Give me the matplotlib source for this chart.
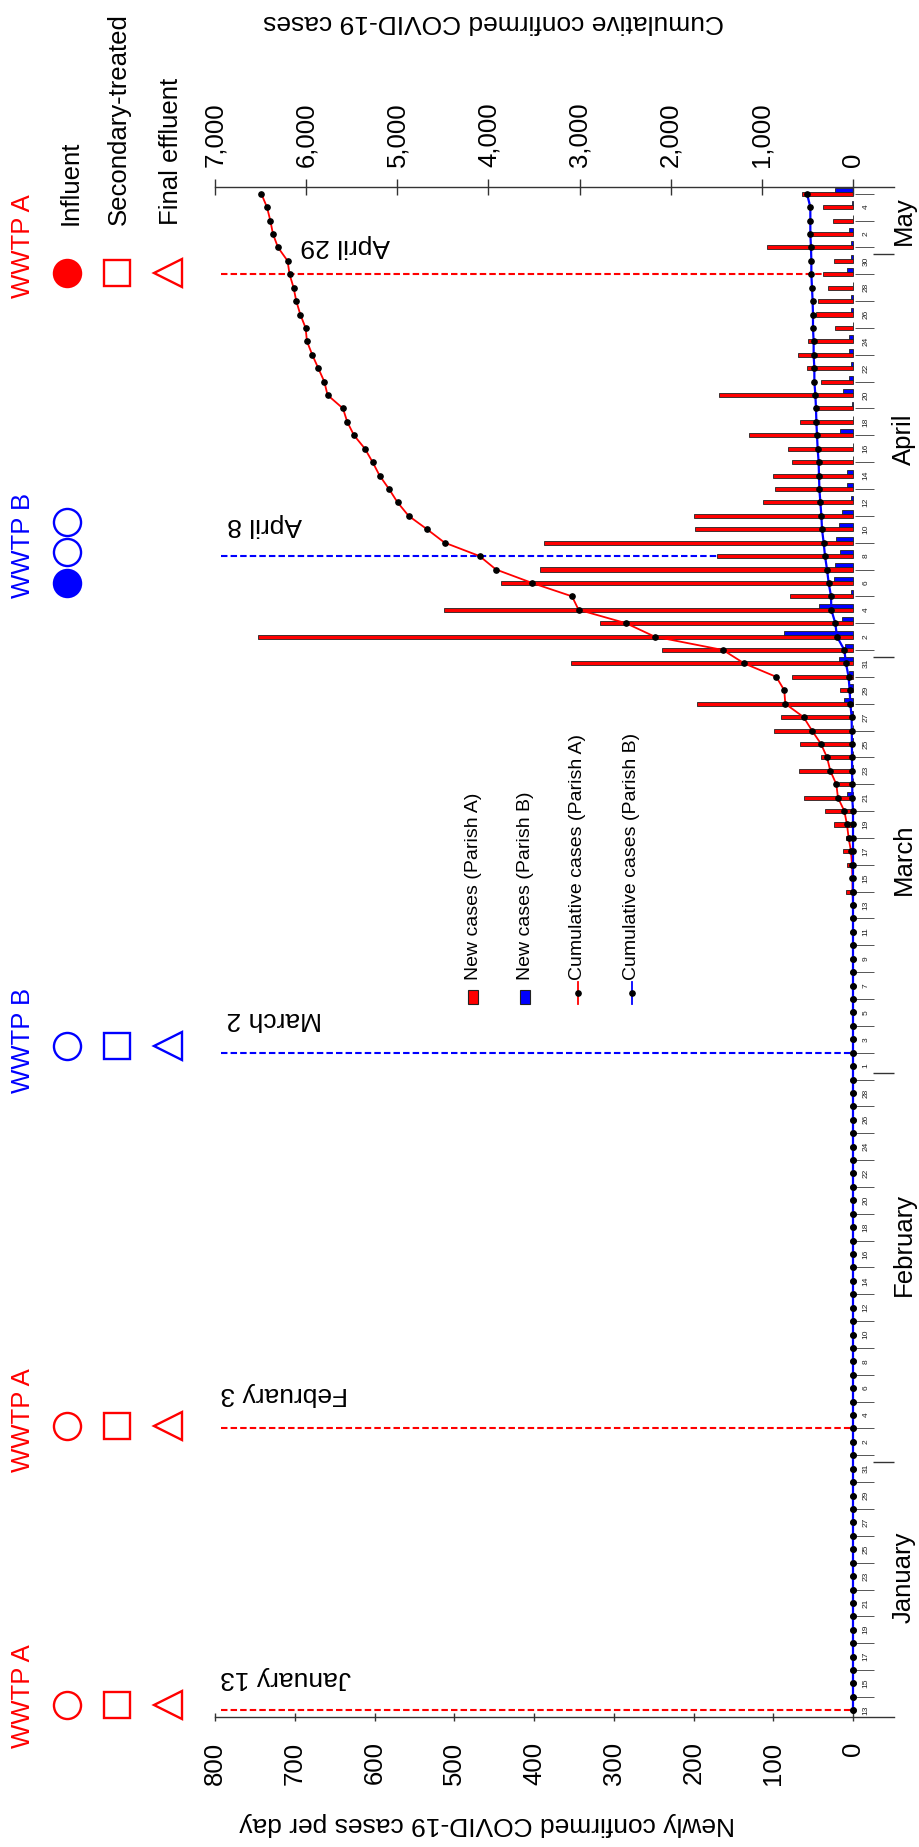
import matplotlib
matplotlib.use('Agg')
import matplotlib.pyplot as plt
import matplotlib.transforms as mtransforms
from matplotlib.patches import Rectangle
from matplotlib.lines import Line2D
import numpy as np
import pandas as pd

plt.rcParams['font.family'] = ['Liberation Sans', 'DejaVu Sans']

# ---------------- data ----------------
start_date = '2020-01-13'
end_date = '2020-05-05'
first_case_day = 61  # March 14 (day index from Jan 13)

# Parish A new daily cases, March 14 .. May 5
new_a_tail = [9, 0, 7, 13, 9, 24, 35, 62, 18, 68, 40, 67, 99, 90, 195, 16, 76, 354, 240,
              746, 317, 513, 79, 442, 392, 170, 388, 198, 199, 113, 98, 100, 76, 81, 130,
              67, 45, 168, 40, 58, 69, 56, 22, 47, 44, 31, 38, 24, 108, 51, 25, 38, 64]
# Parish B new daily cases, March 14 .. May 5
new_b_tail = [0, 0, 0, 0, 0, 0, 0, 7, 0, 1, 0, 1, 0, 2, 11, 5, 5, 18, 10,
              87, 14, 43, 3, 24, 22, 16, 21, 18, 14, 3, 8, 8, 0, 0, 16,
              0, 1, 12, 5, 3, 5, 5, 0, 3, 3, 0, 8, 3, 3, 5, 0, 1, 22]
# Parish A cumulative cases, March 14 .. May 5
cum_a_tail = [5, 6, 11, 22, 48, 66, 95, 165, 183, 249, 285, 351, 450, 542, 743, 754, 842,
              1193, 1426, 2177, 2491, 3011, 3083, 3522, 3917, 4097, 4481, 4674, 4876, 4997,
              5091, 5194, 5271, 5355, 5475, 5549, 5596, 5765, 5801, 5867, 5933, 5991, 6006,
              6064, 6108, 6138, 6182, 6204, 6309, 6364, 6393, 6430, 6492]
# Parish B cumulative cases, March 14 .. May 5
cum_b_tail = [0, 0, 0, 0, 0, 0, 0, 8, 8, 10, 11, 12, 13, 15, 29, 37, 48, 77, 95,
              176, 194, 238, 241, 267, 285, 307, 322, 340, 347, 358, 369, 373, 377, 388, 395,
              402, 406, 413, 424, 424, 432, 432, 439, 439, 443, 450, 457, 457, 461, 468,
              468, 468, 505]

# sampling events
event_days = [0, 21, 49, 86, 107]
event_labels = ['January 13', 'February 3', 'March 2', 'April 8', 'April 29']
event_plants = ['WWTP A', 'WWTP A', 'WWTP B', 'WWTP B', 'WWTP A']
event_colors = ['#FF0000', '#FF0000', '#0000FF', '#0000FF', '#FF0000']

new_ticks = [0, 100, 200, 300, 400, 500, 600, 700, 800]
cum_ticks = [0, 1000, 2000, 3000, 4000, 5000, 6000, 7000]
month_names = ['January', 'February', 'March', 'April', 'May']
legend_labels = ['New cases (Parish A)', 'New cases (Parish B)',
                 'Cumulative cases (Parish A)', 'Cumulative cases (Parish B)']
sample_types = ['Influent', 'Secondary-treated', 'Final effluent']

dates = pd.date_range(start_date, end_date, freq='D')
n = len(dates)
days = np.arange(n)
new_a = np.array([0] * first_case_day + new_a_tail, dtype=float)
new_b = np.array([0] * first_case_day + new_b_tail, dtype=float)
cum_a = np.array([0] * first_case_day + cum_a_tail, dtype=float)
cum_b = np.array([0] * first_case_day + cum_b_tail, dtype=float)

RED = '#FF0000'
BLUE = '#0000FF'
AXC = '#333333'

# ---------------- figure ----------------
W, H = 919, 1847
fig = plt.figure(figsize=(W / 100, H / 100), dpi=100)


def fx(px):
    return px / W


def fy(py):
    return 1 - py / H


PX_PER_DAY = (1717 - 187) / 114.0

ax = fig.add_axes([fx(215), fy(1717), fx(894) - fx(215), fy(187) - fy(1717)])
x_right = -(894 - 853) / ((853 - 215) / 800.0)
ax.set_xlim(800, x_right)
ax.set_ylim(-0.5, 113.5)

# bars
ax.barh(days, new_a, height=0.3, color=RED, edgecolor='#222222', linewidth=0.6, zorder=3)
ax.barh(days + 0.3, new_b, height=0.3, color=BLUE, edgecolor='#222222', linewidth=0.6, zorder=3)

# sampling dashed lines
for d, c in zip(event_days, event_colors):
    ax.hlines(d, 793, 0, colors=c, linestyles=(0, (3.1, 1.5)), linewidth=1.5, zorder=2)

# date axis (tick labels every other day, marks between)
for d in days:
    if d % 2 == 0 and d <= 112:
        ax.text(-16.5, d, str(dates[d].day), rotation=90, fontsize=6, ha='center',
                va='center', color='#222222', zorder=4)
odd = [d for d in days if d % 2 == 1]
ax.hlines(odd, -2.8, -26.5, colors='#555555', linewidth=0.7, zorder=4)
month_starts = [d for d in days if dates[d].day == 1]
ax.hlines([m - 0.5 for m in month_starts], -25, x_right, colors=AXC, linewidth=1.0,
          clip_on=False, zorder=4)

trans = mtransforms.blended_transform_factory(fig.transFigure, ax.transData)
month_centers = [9.9, 34.7, 63.4, 94.7, 111.0]
for name, yc in zip(month_names, month_centers):
    ax.text(fx(904), yc, name, transform=trans, rotation=90, fontsize=18.5,
            ha='center', va='center', color='black', clip_on=False)

# spines & ticks (bottom: new cases)
for s in ['left', 'right', 'top']:
    ax.spines[s].set_visible(False)
ax.spines['bottom'].set_color(AXC)
ax.spines['bottom'].set_linewidth(1.0)
ax.set_yticks([])
ax.set_xticks(new_ticks)
ax.set_xticklabels([str(v) for v in new_ticks], rotation=90, fontsize=18.5)
ax.tick_params(axis='x', direction='inout', length=6.2, width=1.0, color=AXC, pad=14.5)

# cumulative axis (top)
ax2 = ax.twiny()
ax2.set_xlim(7000, x_right * 8.75)
ax2.set_ylim(-0.5, 113.5)
for s in ['left', 'right', 'bottom']:
    ax2.spines[s].set_visible(False)
ax2.spines['top'].set_color(AXC)
ax2.spines['top'].set_linewidth(1.0)
ax2.set_xticks(cum_ticks)
ax2.set_xticklabels([f'{v:,}' for v in cum_ticks], rotation=90, fontsize=18.5)
ax2.tick_params(axis='x', direction='inout', length=12, width=1.0, color=AXC, pad=8.4)

ax2.plot(cum_a, days, color=RED, lw=1.3, marker='o', ms=3.8, mfc='black', mec='black', zorder=5)
ax2.plot(cum_b, days, color=BLUE, lw=1.6, marker='o', ms=3.8, mfc='black', mec='black', zorder=6)
ax2.set_ylim(-0.5, 113.5)

# axis titles (upside down)
fig.text(fx(487), fy(1824), 'Newly confirmed COVID-19 cases per day', rotation=180,
         fontsize=19, ha='center', va='center')
fig.text(fx(494), fy(22), 'Cumulative confirmed COVID-19 cases', rotation=180,
         fontsize=19, ha='center', va='center')

# ---------------- sampling annotations ----------------
px2d = 1.0 / PX_PER_DAY
plant_offsets = [14, 8, 12, 11, 28]      # px above the dashed line (text centre)
marker_offsets = [5, 2, 7, None, 1]
date_offsets = [20, 22, 22, 19, 16]
date_x = [220, 220, 226, 227, 300]
col_x = [67, 117, 168]
ms = 19.5
for i, (d, lab, plant, c) in enumerate(zip(event_days, event_labels, event_plants, event_colors)):
    ax.text(fx(23), d + plant_offsets[i] * px2d, plant, transform=trans, rotation=90,
            fontsize=18.5, color=c, ha='center', va='center', clip_on=False)
    ax.text(fx(date_x[i]), d + date_offsets[i] * px2d, lab, transform=trans, rotation=180,
            fontsize=19, color='black', ha='left', va='bottom', clip_on=False)
    if marker_offsets[i] is not None:
        ym = d + marker_offsets[i] * px2d
        filled = (i == 4)
        ax.plot([fx(col_x[0])], [ym], transform=trans, marker='o', ms=ms,
                mfc=c if filled else 'none', mec=c, mew=1.7, ls='none', clip_on=False)
        ax.plot([fx(col_x[1])], [ym], transform=trans, marker='s', ms=ms * 0.98,
                mfc='none', mec=c, mew=1.7, ls='none', clip_on=False)
        ax.plot([fx(col_x[2])], [ym], transform=trans, marker='<', ms=ms,
                mfc='none', mec=c, mew=1.7, ls='none', clip_on=False)
    else:
        for off, filled in zip([-27, 4, 34], [True, False, False]):
            ax.plot([fx(col_x[0])], [d + off * px2d], transform=trans, marker='o', ms=ms,
                    mfc=c if filled else 'none', mec=c, mew=1.7, ls='none', clip_on=False)

# sample-type legend (top left)
for x, t in zip([71, 119, 171], sample_types):
    ax.text(fx(x), event_days[4] + (274 - 225) * px2d, t, transform=trans, rotation=90,
            fontsize=18.5, color='black', ha='center', va='bottom', clip_on=False)

# series legend
leg_x = [473, 525, 578, 632]
leg_bottom = 980
for x, t in zip(leg_x, legend_labels):
    fig.text(fx(x), fy(leg_bottom), t, rotation=90, fontsize=14, ha='center', va='bottom')
for x, c in zip(leg_x[:2], [RED, BLUE]):
    fig.add_artist(Rectangle((fx(x - 5), fy(1004)), fx(10), 14 / H, transform=fig.transFigure,
                             facecolor=c, edgecolor='#222222', linewidth=0.8))
for x, c in zip(leg_x[2:], [RED, BLUE]):
    fig.add_artist(Line2D([fx(x), fx(x)], [fy(1004), fy(982)], transform=fig.transFigure,
                          color=c, lw=1.3))
    fig.add_artist(Line2D([fx(x)], [fy(993)], transform=fig.transFigure, marker='o',
                          ms=3.8, mfc='black', mec='black', ls='none'))

fig.savefig('out.png', dpi=100)
